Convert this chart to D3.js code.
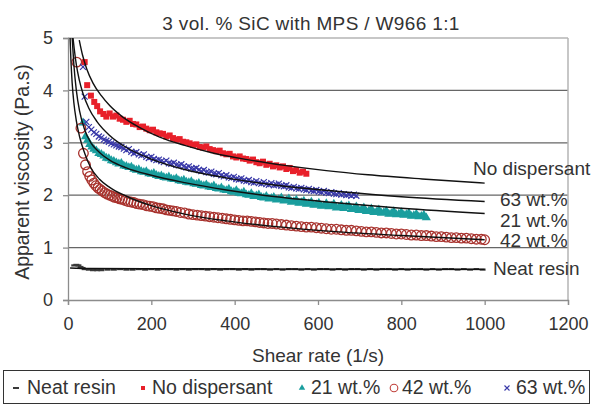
<!DOCTYPE html>
<html><head><meta charset="utf-8">
<script src="https://cdn.jsdelivr.net/npm/d3@7"></script>
<style>body{margin:0;background:#fff;} svg{display:block;}</style>
</head><body>
<svg id="c" width="593" height="407"></svg>
<script>
const titleText = "3 vol. % SiC with MPS / W966 1:1";
const xTicks = [0,200,400,600,800,1000,1200];
const yTicks = [0,1,2,3,4,5];
const xLabel = "Shear rate (1/s)";
const yLabel = "Apparent viscosity (Pa.s)";
const seriesNames = ["Neat resin","No dispersant","21 wt.%","42 wt.%","63 wt.%"];

// measured points [shear rate, viscosity]
const neatResin = [[15,0.66],[20,0.67],[25,0.66],[30,0.63],[35,0.61],[40,0.59],[50,0.58],[60,0.57],[70,0.57],[80,0.57],[95,0.58],[110,0.58],[125,0.59],[140,0.58],[155,0.58],[170,0.59],[185,0.58],[200,0.59],[215,0.58],[230,0.59],[245,0.59],[260,0.58],[275,0.59],[290,0.58],[305,0.59],[320,0.59],[335,0.58],[350,0.59],[365,0.58],[380,0.59],[395,0.59],[410,0.58],[425,0.59],[440,0.58],[455,0.59],[470,0.59],[485,0.58],[500,0.59],[515,0.58],[530,0.59],[545,0.59],[560,0.58],[575,0.59],[590,0.58],[605,0.59],[620,0.59],[635,0.58],[650,0.59],[665,0.58],[680,0.59],[695,0.59],[710,0.58],[725,0.59],[740,0.58],[755,0.59],[770,0.59],[785,0.58],[800,0.59],[815,0.58],[830,0.59],[845,0.59],[860,0.58],[875,0.59],[890,0.58],[905,0.59],[920,0.59],[935,0.58],[950,0.59],[965,0.58],[980,0.59],[995,0.58]];

const noDispersant = [[40,4.54],[46,4.10],[55,3.90],[63,3.78],[70,3.70],[77,3.60],[85,3.55],[92,3.50],[100,3.56],[108,3.50],[116,3.52],[124,3.46],[132,3.44],[140,3.40],[148,3.42],[156,3.36],[164,3.35],[172,3.30],[180,3.31],[188,3.27],[196,3.24],[204,3.25],[212,3.20],[220,3.18],[228,3.17],[236,3.12],[244,3.14],[252,3.09],[260,3.06],[268,3.07],[276,3.02],[284,3.01],[292,2.99],[300,2.96],[308,2.97],[316,2.92],[324,2.91],[332,2.93],[340,2.88],[348,2.86],[356,2.84],[364,2.85],[372,2.80],[380,2.78],[388,2.79],[396,2.74],[404,2.72],[412,2.74],[420,2.70],[428,2.69],[436,2.66],[444,2.68],[452,2.63],[460,2.61],[468,2.64],[476,2.58],[484,2.60],[492,2.55],[500,2.57],[508,2.53],[516,2.55],[524,2.50],[532,2.52],[540,2.46],[548,2.48],[556,2.43],[564,2.45],[572,2.41]];

const wt21 = [[36,3.38],[42,3.12],[47,3.05],[52,2.97],[57,2.92],[62,2.88],[68,2.85],[74,2.80],[80,2.78],[86,2.75],[92,2.71],[98,2.70],[104,2.66],[110,2.65],[116,2.62],[122,2.60],[128,2.61],[134,2.56],[140,2.55],[146,2.53],[152,2.54],[158,2.50],[164,2.48],[170,2.49],[176,2.45],[182,2.44],[188,2.45],[194,2.41],[200,2.40],[206,2.42],[212,2.38],[218,2.36],[224,2.37],[230,2.34],[236,2.33],[242,2.35],[248,2.31],[254,2.30],[260,2.32],[266,2.28],[272,2.27],[278,2.29],[284,2.25],[290,2.24],[296,2.26],[302,2.22],[308,2.21],[314,2.23],[320,2.19],[326,2.18],[332,2.20],[338,2.16],[344,2.15],[350,2.18],[356,2.13],[362,2.12],[368,2.14],[374,2.10],[380,2.09],[386,2.12],[392,2.07],[398,2.06],[404,2.09],[410,2.04],[416,2.03],[422,2.06],[428,2.01],[434,2.00],[440,2.03],[446,1.98],[452,1.99],[458,2.01],[464,1.96],[470,1.95],[476,1.98],[482,1.93],[488,1.94],[494,1.96],[500,1.91],[506,1.92],[512,1.95],[518,1.89],[524,1.90],[530,1.93],[536,1.87],[542,1.88],[548,1.91],[554,1.85],[560,1.86],[566,1.89],[572,1.83],[578,1.84],[584,1.87],[590,1.81],[596,1.82],[602,1.85],[608,1.79],[614,1.80],[620,1.84],[626,1.78],[632,1.79],[638,1.83],[644,1.76],[650,1.77],[656,1.81],[662,1.75],[668,1.78],[674,1.80],[680,1.73],[686,1.74],[692,1.78],[698,1.71],[704,1.72],[710,1.76],[716,1.69],[722,1.70],[728,1.74],[734,1.67],[740,1.68],[746,1.72],[752,1.66],[758,1.67],[764,1.70],[770,1.64],[776,1.65],[782,1.69],[788,1.63],[794,1.64],[800,1.67],[806,1.62],[812,1.63],[818,1.66],[824,1.60],[830,1.61],[836,1.64],[842,1.59],[848,1.60],[854,1.62],[860,1.57]];

const wt42 = [[21,4.54],[31,3.28],[37,2.80],[42,2.58],[47,2.45],[52,2.36],[57,2.29],[62,2.23],[67,2.18],[72,2.14],[77,2.11],[82,2.08],[88,2.05],[94,2.02],[100,2.00],[106,1.98],[112,1.96],[118,1.95],[124,1.93],[130,1.92],[137,1.90],[144,1.88],[151,1.87],[158,1.86],[165,1.84],[172,1.83],[180,1.82],[188,1.80],[196,1.79],[204,1.78],[212,1.76],[220,1.75],[228,1.74],[236,1.72],[244,1.71],[252,1.70],[260,1.69],[270,1.67],[280,1.66],[290,1.64],[300,1.63],[310,1.62],[320,1.61],[330,1.60],[340,1.59],[350,1.58],[360,1.57],[370,1.56],[380,1.55],[390,1.54],[400,1.53],[410,1.52],[420,1.51],[430,1.51],[440,1.50],[450,1.49],[460,1.48],[470,1.47],[480,1.46],[490,1.46],[500,1.45],[512,1.44],[524,1.43],[536,1.42],[548,1.41],[560,1.40],[572,1.39],[584,1.39],[596,1.38],[608,1.37],[620,1.36],[632,1.35],[644,1.35],[656,1.34],[668,1.33],[680,1.33],[692,1.32],[704,1.31],[716,1.30],[728,1.30],[740,1.29],[752,1.28],[764,1.28],[776,1.27],[788,1.26],[800,1.26],[812,1.25],[824,1.24],[836,1.24],[848,1.23],[860,1.23],[872,1.22],[884,1.21],[896,1.21],[908,1.20],[920,1.19],[932,1.19],[944,1.18],[956,1.18],[968,1.17],[980,1.16],[992,1.16],[1000,1.15]];

const wt63 = [[36,4.45],[40,3.88],[44,3.40],[50,3.30],[56,3.25],[62,3.20],[68,3.17],[74,3.12],[80,3.10],[86,3.06],[92,3.04],[98,3.02],[104,2.99],[110,2.97],[116,2.95],[122,2.93],[128,2.92],[134,2.89],[140,2.86],[146,2.88],[152,2.83],[158,2.80],[164,2.82],[170,2.78],[176,2.76],[182,2.78],[188,2.73],[194,2.71],[200,2.73],[206,2.69],[212,2.67],[218,2.68],[224,2.65],[230,2.63],[236,2.66],[242,2.61],[248,2.60],[254,2.62],[260,2.58],[266,2.57],[272,2.59],[278,2.55],[284,2.53],[290,2.55],[296,2.51],[302,2.50],[308,2.52],[314,2.48],[320,2.46],[326,2.48],[332,2.44],[338,2.43],[344,2.45],[350,2.41],[356,2.40],[362,2.42],[368,2.38],[374,2.36],[380,2.38],[386,2.34],[392,2.33],[398,2.35],[404,2.31],[410,2.30],[416,2.32],[422,2.28],[428,2.27],[434,2.29],[440,2.25],[446,2.24],[452,2.27],[458,2.23],[464,2.22],[470,2.25],[476,2.21],[482,2.20],[488,2.23],[494,2.19],[500,2.20],[506,2.22],[512,2.18],[518,2.17],[524,2.19],[530,2.15],[536,2.14],[542,2.16],[548,2.13],[554,2.12],[560,2.14],[566,2.11],[572,2.10],[578,2.12],[584,2.09],[590,2.08],[596,2.10],[602,2.07],[608,2.06],[614,2.08],[620,2.05],[626,2.04],[632,2.06],[638,2.03],[644,2.02],[650,2.04],[656,2.01],[662,2.02],[668,2.00],[674,2.01],[680,1.99],[686,2.01],[692,1.99]];

// fitted curves
const fitNeat = [[5,0.61],[50,0.60],[200,0.595],[500,0.59],[1000,0.585]];
const fitNoDisp = [[27,4.96],[35,4.67],[45,4.41],[60,4.14],[80,3.90],[100,3.71],[130,3.50],[170,3.30],[220,3.11],[280,2.95],[350,2.80],[430,2.68],[520,2.57],[620,2.47],[720,2.39],[850,2.31],[1000,2.23]];
const fit21 = [[10,5.0],[14,4.5],[20,4.0],[28,3.6],[40,3.25],[55,3.0],[75,2.82],[100,2.67],[140,2.52],[200,2.38],[280,2.24],[380,2.10],[500,1.97],[650,1.85],[800,1.75],[1000,1.65]];
const fit42 = [[5,5.0],[7,4.58],[10,4.14],[14,3.77],[20,3.42],[28,3.11],[40,2.80],[55,2.52],[75,2.31],[100,2.15],[140,1.98],[200,1.80],[280,1.64],[380,1.51],[500,1.40],[650,1.30],[800,1.23],[1000,1.15]];
const fit63 = [[12,5.0],[15,4.79],[20,4.49],[27,4.20],[36,3.94],[50,3.66],[70,3.40],[100,3.14],[140,2.91],[200,2.69],[280,2.49],[380,2.33],[500,2.19],[650,2.07],[800,1.97],[1000,1.88]];

// curve label text and the viscosity level of its baseline
const curveLabels = [["No dispersant",2.385],["63 wt.%",1.79],["21 wt.%",1.39],["42 wt.%",1.01],["Neat resin",0.477]];

const FONT = "'Liberation Sans', Arial, sans-serif";
const TXT = "#333";
const svg = d3.select("#c");
const x = d3.scaleLinear().domain([0,1200]).range([68,568]);
const y = d3.scaleLinear().domain([0,5]).range([300,38]);

svg.append("defs").append("clipPath").attr("id","clip")
  .append("rect").attr("x",68).attr("y",38).attr("width",500).attr("height",262);

// grid
svg.append("g").selectAll("line").data(yTicks.filter(d=>d>0 && d<5)).join("line")
  .attr("x1",x(0)).attr("x2",x(1200)).attr("y1",d=>y(d)).attr("y2",d=>y(d))
  .attr("stroke","#666").attr("stroke-width",1.2);
svg.append("line").attr("x1",x(0)).attr("x2",x(1200)).attr("y1",y(5)).attr("y2",y(5)).attr("stroke","#b4b4b4").attr("stroke-width",1.5);
svg.append("line").attr("x1",x(1200)).attr("x2",x(1200)).attr("y1",y(5)).attr("y2",y(0)).attr("stroke","#b4b4b4").attr("stroke-width",1.5);

// axes
const xAxis = svg.append("g").attr("transform",`translate(0,${y(0)})`)
  .call(d3.axisBottom(x).tickValues(xTicks).tickSize(5).tickPadding(12).tickFormat(d3.format("d")));
const yAxis = svg.append("g").attr("transform",`translate(${x(0)},0)`)
  .call(d3.axisLeft(y).tickValues(yTicks).tickSize(5).tickPadding(10).tickFormat(d3.format("d")));
[xAxis,yAxis].forEach(a=>{
  a.select(".domain").attr("stroke","#8c8c8c").attr("stroke-width",1.3);
  a.selectAll(".tick line").attr("stroke","#8c8c8c").attr("stroke-width",1.3);
  a.selectAll("text").attr("font-family",FONT).attr("font-size",18).attr("fill",TXT);
});

const plot = svg.append("g").attr("clip-path","url(#clip)");

const cRed="#e8202a", cBlue="#3838a8", cTeal="#1a9e9e", cBrown="#a8322d", cNeat="#3a3a3a";
plot.append("g").selectAll("line").data(neatResin).join("line")
  .attr("x1",d=>x(d[0])-3).attr("x2",d=>x(d[0])+3).attr("y1",d=>y(d[1])).attr("y2",d=>y(d[1]))
  .attr("stroke",cNeat).attr("stroke-width",2.2);
plot.append("g").selectAll("rect").data(noDispersant).join("rect")
  .attr("x",d=>x(d[0])-3).attr("y",d=>y(d[1])-3).attr("width",6).attr("height",6).attr("fill",cRed);
plot.append("g").selectAll("path").data(wt21).join("path")
  .attr("d",d3.symbol(d3.symbolTriangle,36)).attr("transform",d=>`translate(${x(d[0])},${y(d[1])})`).attr("fill",cTeal);
plot.append("g").selectAll("circle").data(wt42).join("circle")
  .attr("cx",d=>x(d[0])).attr("cy",d=>y(d[1])).attr("r",4.8).attr("fill","none").attr("stroke",cBrown).attr("stroke-width",1.3);
plot.append("g").selectAll("path").data(wt63).join("path")
  .attr("d",d=>{const cx=x(d[0]),cy=y(d[1]),s=3;return `M${cx-s},${cy-s}L${cx+s},${cy+s}M${cx-s},${cy+s}L${cx+s},${cy-s}`;})
  .attr("stroke",cBlue).attr("stroke-width",1.2).attr("fill","none");

// fits
const line = d3.line().x(d=>x(d[0])).y(d=>y(d[1])).curve(d3.curveMonotoneX);
[fitNeat,fitNoDisp,fit21,fit42,fit63].forEach(f=>{
  plot.append("path").attr("d",line(f)).attr("fill","none").attr("stroke","#111").attr("stroke-width",1.4);
});

// curve labels
const labelX = {"No dispersant":473,"63 wt.%":500,"21 wt.%":500,"42 wt.%":500,"Neat resin":493};
svg.append("g").selectAll("text").data(curveLabels).join("text")
  .attr("x",d=>labelX[d[0]]).attr("y",d=>y(d[1])).text(d=>d[0])
  .attr("font-family",FONT).attr("font-size",19).attr("fill",TXT);

// titles
svg.append("text").attr("x",311).attr("y",30).attr("text-anchor","middle").text(titleText)
  .attr("font-family",FONT).attr("font-size",19).attr("letter-spacing",0.35).attr("fill",TXT);
svg.append("text").attr("x",318).attr("y",362).attr("text-anchor","middle").text(xLabel)
  .attr("font-family",FONT).attr("font-size",19).attr("fill",TXT);
svg.append("text").attr("transform","translate(29,172) rotate(-90)").attr("text-anchor","middle").text(yLabel)
  .attr("font-family",FONT).attr("font-size",19.5).attr("fill",TXT);

// legend
svg.append("rect").attr("x",3.5).attr("y",370.5).attr("width",586).attr("height",33)
  .attr("fill","none").attr("stroke","#333").attr("stroke-width",1);
const legMarkX = [16,143,302,394,507];
const legTextX = [27,152,311,402,516];
const lg = svg.append("g");
seriesNames.forEach((n,i)=>{
  lg.append("text").attr("x",legTextX[i]).attr("y",394).text(n)
    .attr("font-family",FONT).attr("font-size",19.5).attr("fill",TXT);
  const mx = legMarkX[i], my = 388;
  if(i===0) lg.append("line").attr("x1",mx-3).attr("x2",mx+3).attr("y1",my).attr("y2",my).attr("stroke",cNeat).attr("stroke-width",2);
  if(i===1) lg.append("rect").attr("x",mx-2).attr("y",my-2).attr("width",4).attr("height",4).attr("fill",cRed);
  if(i===2) lg.append("path").attr("d",d3.symbol(d3.symbolTriangle,18)).attr("transform",`translate(${mx},${my})`).attr("fill",cTeal);
  if(i===3) lg.append("circle").attr("cx",mx).attr("cy",my).attr("r",3.8).attr("fill","none").attr("stroke","#c0403a").attr("stroke-width",1.1);
  if(i===4) lg.append("path").attr("d",`M${mx-2.5},${my-2.5}L${mx+2.5},${my+2.5}M${mx-2.5},${my+2.5}L${mx+2.5},${my-2.5}`).attr("stroke",cBlue).attr("stroke-width",1.1);
});
</script>
</body></html>
